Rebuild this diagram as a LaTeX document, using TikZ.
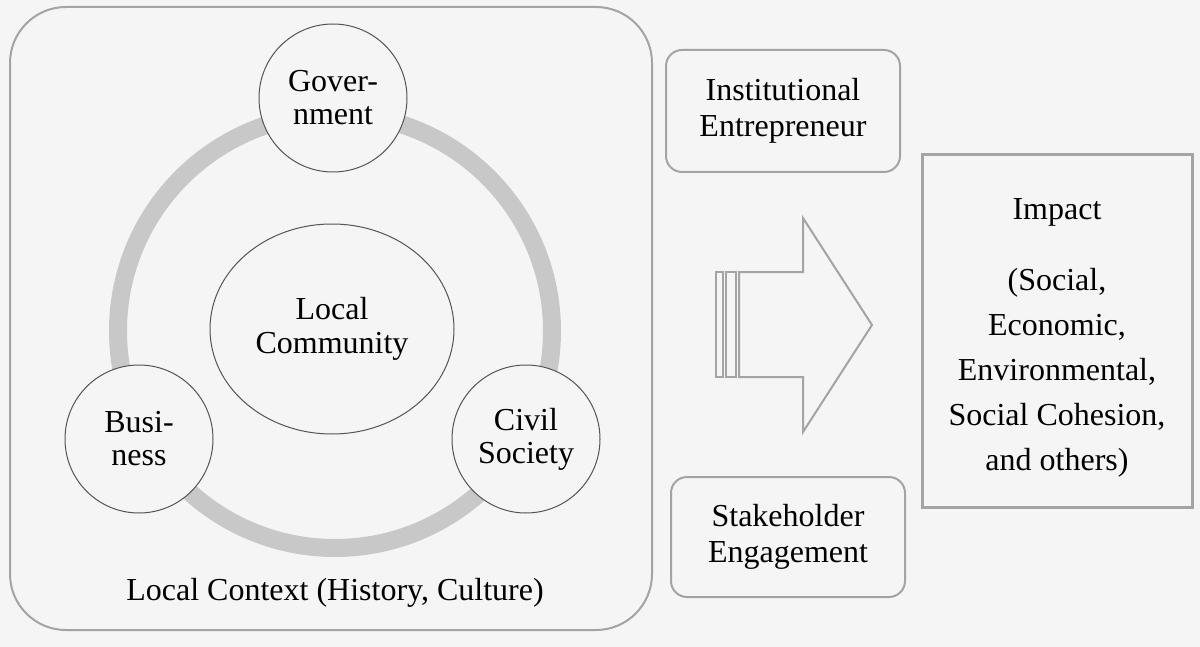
\documentclass[tikz,border=0pt]{standalone}
\usepackage{fontspec}
\setmainfont{Liberation Serif}
\usepackage{tikz}
\usetikzlibrary{shapes,positioning}
\definecolor{bg}{HTML}{F5F5F5}
\definecolor{frame_gray}{HTML}{A4A4A4}
\definecolor{ring_gray}{HTML}{C8C8C8}
\definecolor{line_dark}{HTML}{555555}

\begin{document}
\begin{tikzpicture}[x=0.5pt,y=-0.5pt,
	actor_node/.style={circle,draw=line_dark,fill=bg,line width=0.5pt,minimum size=74pt,inner sep=0pt,align=center,font=\fontsize{16}{16.5}\selectfont},
	box_node/.style={draw=frame_gray,line width=1pt,rounded corners=8pt,align=center,inner sep=0pt,font=\fontsize{16}{18}\selectfont}]
				
				\fill[bg] (0,0) rectangle (1200,647);
				\useasboundingbox (0,0) rectangle (1200,647);
				
				% local context frame
				\draw[frame_gray, line width=1pt, rounded corners=28pt] (10,7) rectangle (652,630);
				\node[font=\fontsize{16}{17}\selectfont] (ctx) at (335,593) {Local Context (History, Culture)};
				
				% ring and actors
				\draw[ring_gray, line width=9pt] (335,331) circle [radius=217];
				\node[ellipse, draw=line_dark, fill=bg, line width=0.5pt, minimum width=122pt, minimum height=105pt, inner sep=0pt, align=center, font=\fontsize{16}{17}\selectfont] (com) at (332,329) {Local\\Community};
				\node[actor_node] (gov) at (333,98) {Gover-\\nment};
				\node[actor_node] (bus) at (139,439) {Busi-\\ness};
				\node[actor_node] (civ) at (526,439) {Civil\\Society};
				
				% mechanisms
				\node[box_node, minimum width=117pt, minimum height=61pt] (ie) at (783,111) {Institutional\\Entrepreneur};
				\node[box_node, minimum width=117pt, minimum height=60pt] (se) at (788,537) {Stakeholder\\Engagement};
				
				% big arrow
				\draw[frame_gray, line width=1pt, line join=miter] (739,272) -- (803,272) -- (803,218) -- (872,325) -- (803,432) -- (803,377) -- (739,377) -- cycle;
				\draw[frame_gray, line width=1pt] (716,272) rectangle (723,377);
				\draw[frame_gray, line width=1pt] (726,272) rectangle (736,377);
				
				% impact
				\node[draw=frame_gray, line width=1.5pt, minimum width=135pt, minimum height=176pt, inner sep=0pt] (imp) at (1057,331) {};
				\node[font=\fontsize{16}{17}\selectfont] (imp_t) at (1057,212) {Impact};
				\node[align=center, font=\fontsize{16}{22.5}\selectfont, below=14pt of imp_t] (imp_l) {(Social,\\Economic,\\Environmental,\\Social Cohesion,\\and others)};
			\end{tikzpicture}
\end{document}
